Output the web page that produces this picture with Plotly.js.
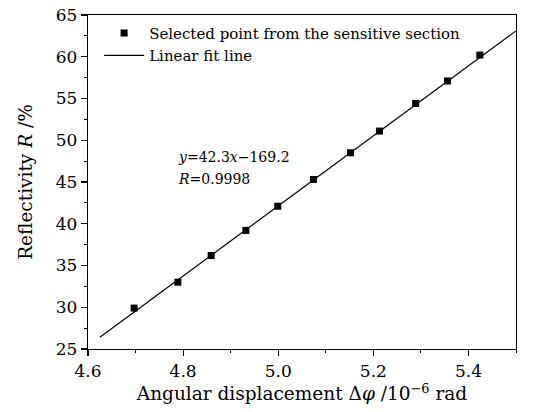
<!DOCTYPE html>
<html><head><meta charset="utf-8">
<script src="https://cdn.plot.ly/plotly-3.0.1.min.js"></script>
<style>body{margin:0;background:#fff}#c{width:539px;height:412px}</style>
</head><body><div id="c"></div>
<script>
const pointX = [4.697, 4.789, 4.859, 4.932, 4.999, 5.074, 5.152, 5.213, 5.289, 5.356, 5.424];
const pointY = [29.9, 33.0, 36.2, 39.2, 42.1, 45.3, 48.5, 51.1, 54.4, 57.1, 60.2];
const fitX = [4.625, 5.5];
const fitY = [26.4, 63.1];
const xTicks = [4.6, 4.8, 5.0, 5.2, 5.4];
const yTicks = [25, 30, 35, 40, 45, 50, 55, 60, 65];
const F = 'DejaVu Serif, serif';

const traces = [
  {x: pointX, y: pointY, mode: 'markers', type: 'scatter', name: 'Selected point from the sensitive section',
   marker: {symbol: 'square', size: 7, color: '#000'}},
  {x: fitX, y: fitY, mode: 'lines', type: 'scatter', name: 'Linear fit line',
   line: {color: '#000', width: 1.2}}
];
const axCommon = {showgrid: false, zeroline: false, showline: true, mirror: true, linecolor: '#000', linewidth: 1.2,
  ticks: 'outside', ticklen: 6, tickwidth: 1.2, tickcolor: '#000', tickfont: {family: F, size: 17, color: '#000'},
  minor: {ticks: 'outside', ticklen: 3, tickwidth: 1, tickcolor: '#000'}};
const layout = {
  width: 539, height: 412, paper_bgcolor: '#fff', plot_bgcolor: '#fff',
  margin: {l: 88, r: 23, t: 15, b: 63},
  showlegend: true,
  legend: {x: 0.026, y: 0.995, xanchor: 'left', yanchor: 'top', bgcolor: 'rgba(0,0,0,0)',
    font: {family: F, size: 15, color: '#000'}, tracegroupgap: 0, itemwidth: 40},
  xaxis: Object.assign({}, axCommon, {range: [4.6, 5.5], tickvals: xTicks, ticktext: xTicks.map(v => v.toFixed(1)),
    minor: Object.assign({}, axCommon.minor, {dtick: 0.1, tick0: 4.6}),
    title: {text: 'Angular displacement Δ<i>φ</i> /10<sup>−6</sup> rad', font: {family: F, size: 18.5, color: '#000'}, standoff: 3}}),
  yaxis: Object.assign({}, axCommon, {range: [25, 65], tickvals: yTicks,
    minor: Object.assign({}, axCommon.minor, {dtick: 2.5, tick0: 25}),
    title: {text: 'Reflectivity <i>R</i> /%', font: {family: F, size: 18.5, color: '#000'}, standoff: 18}}),
  annotations: [
    {xref: 'paper', yref: 'paper', x: 0.205, y: 0.575, xanchor: 'left', yanchor: 'middle', showarrow: false,
     text: '<i>y</i>=42.3<i>x</i>−169.2', font: {family: F, size: 14, color: '#000'}},
    {xref: 'paper', yref: 'paper', x: 0.205, y: 0.51, xanchor: 'left', yanchor: 'middle', showarrow: false,
     text: '<i>R</i>=0.9998', font: {family: F, size: 14, color: '#000'}}
  ]
};
Plotly.newPlot('c', traces, layout, {displayModeBar: false, staticPlot: true});
</script></body></html>
